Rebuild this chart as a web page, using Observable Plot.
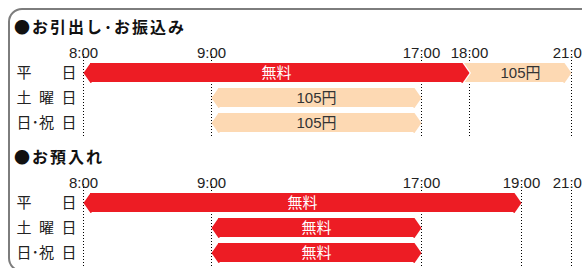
<!DOCTYPE html>
<html><head><meta charset="utf-8">
<script src="https://cdn.jsdelivr.net/npm/d3@7"></script>
<script src="https://cdn.jsdelivr.net/npm/@observablehq/plot@0.6"></script>
<style>
body{margin:0;background:#fff;}
#wrap{position:relative;width:582px;height:268px;overflow:hidden;font-family:"Noto Sans CJK JP",sans-serif;}
.frame{position:absolute;left:8px;top:8px;width:640px;height:264px;border:2px solid #7d7d7d;border-radius:14px;box-sizing:border-box;}
.title{position:absolute;left:14px;font-size:16px;font-weight:bold;letter-spacing:2px;line-height:20px;color:#111;white-space:nowrap;}
.chart{position:absolute;left:0;}
</style></head><body>
<div id="wrap">
<div class="frame"></div>
<div class="title" id="t1" style="top:16px"></div>
<div class="chart" id="c1" style="top:36px"></div>
<div class="title" id="t2" style="top:146px"></div>
<div class="chart" id="c2" style="top:166px"></div>
</div>
<script>
const sectionTitles = ["●お引出し･お振込み", "●お預入れ"];
const days = ["平日", "土曜日", "日・祝日"];
const dayLabels = ["平\u3000\u3000日", "土\u2002曜\u2002日", "日･祝\u2002日"];
const hourStops = [8, 9, 17, 18, 19, 21];
const ticksWithdraw = [8, 9, 17, 18, 21];
const ticksDeposit = [8, 9, 17, 19, 21];
const withdrawDay = ["平日", "平日", "土曜日", "日・祝日"];
const withdrawStart = [8, 18, 9, 9];
const withdrawEnd = [18, 21, 17, 17];
const withdrawFee = ["無料", "105円", "105円", "105円"];
const depositDay = ["平日", "土曜日", "日・祝日"];
const depositStart = [8, 9, 9];
const depositEnd = [19, 17, 17];
const depositFee = ["無料", "無料", "無料"];

const feeColor = {"無料": "#ed1c24", "105円": "#fdd9b3"};
const feeText = {"無料": "#ffffff", "105円": "#333333"};
const xRange = [83, 211, 421, 469, 521, 571];
const D = 7, H = 10;
const tipR = {draw(c) { c.moveTo(0, 0); c.lineTo(-D, -H); c.lineTo(-D - 1, -H); c.lineTo(-D - 1, H); c.lineTo(-D, H); c.closePath(); }};
const tipL = {draw(c) { c.moveTo(0, 0); c.lineTo(D, -H); c.lineTo(D + 1, -H); c.lineTo(D + 1, H); c.lineTo(D, H); c.closePath(); }};

function section(ticks, dayArr, startArr, endArr, feeArr) {
  const bars = dayArr.map((d, i) => ({day: d, start: startArr[i], end: endArr[i], fee: feeArr[i]}));
  bars.forEach(b => {
    b.follows = bars.some(o => o.day === b.day && o.end === b.start);
    b.followed = bars.some(o => o.day === b.day && o.start === b.end);
  });
  const xs = d3.scaleLinear(hourStops, xRange);
  const labelX = b => xs.invert((xs(b.start) + xs(b.end)) / 2);
  const fill = b => feeColor[b.fee];
  return Plot.plot({
    width: 582, height: 102, marginLeft: 0, marginRight: 0, marginTop: 18, marginBottom: 0,
    style: {background: "transparent", overflow: "visible"},
    x: {type: "linear", domain: hourStops, range: xRange, axis: null},
    y: {type: "band", domain: days, range: [26, 97.5], paddingInner: 0.2233, paddingOuter: 0, axis: null},
    marks: [
      Plot.ruleX(ticks, {x: d => d, stroke: "#000", strokeDasharray: "1,2"}),
      Plot.text(ticks, {x: d => d, text: d => `${d}:00`, frameAnchor: "top", dy: -7, fontSize: 15, fill: "#222", fontFamily: "Liberation Sans"}),
      Plot.text(days, {y: d => d, text: (d, i) => dayLabels[i], frameAnchor: "left", textAnchor: "start", dx: 16, fontSize: 15, fill: "#222", fontFamily: "Noto Sans CJK JP"}),
      Plot.barX(bars.filter(b => !b.follows), {x1: "start", x2: "end", y: "day", fill, insetLeft: D, insetRight: D}),
      Plot.barX(bars.filter(b => b.follows), {x1: "start", x2: "end", y: "day", fill, insetLeft: -(D - 1), insetRight: D}),
      Plot.dot(bars.filter(b => b.followed), {x: "end", y: "day", symbol: tipR, fill: "#fff", stroke: "none", dx: 1.5}),
      Plot.dot(bars.filter(b => !b.follows), {x: "start", y: "day", symbol: tipL, fill, stroke: "none"}),
      Plot.dot(bars, {x: "end", y: "day", symbol: tipR, fill, stroke: "none"}),
      Plot.text(bars, {x: labelX, y: "day", text: "fee", fill: b => feeText[b.fee], fontSize: 15, fontFamily: "Liberation Sans, Noto Sans CJK JP"})
    ]
  });
}

document.getElementById("t1").textContent = sectionTitles[0];
document.getElementById("t2").textContent = sectionTitles[1];
document.getElementById("c1").append(section(ticksWithdraw, withdrawDay, withdrawStart, withdrawEnd, withdrawFee));
document.getElementById("c2").append(section(ticksDeposit, depositDay, depositStart, depositEnd, depositFee));
</script>
</body></html>
